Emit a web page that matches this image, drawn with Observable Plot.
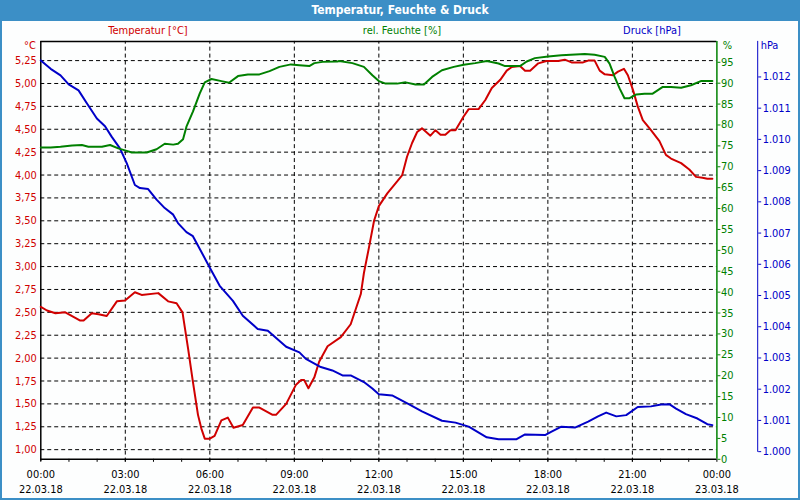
<!DOCTYPE html>
<html>
<head>
<meta charset="utf-8">
<script src="https://cdn.jsdelivr.net/npm/d3@7"></script>
<script src="https://cdn.jsdelivr.net/npm/@observablehq/plot@0.6"></script>
<style>
  html, body { margin: 0; padding: 0; background: #fff; }
  #chart { position: relative; width: 800px; height: 500px; box-sizing: border-box;
           border-left: 2px solid #3c8fc6; border-right: 2px solid #3c8fc6; border-bottom: 2px solid #3c8fc6;
           font-family: "DejaVu Sans Condensed", "DejaVu Sans", sans-serif; font-size: 11px; background: #fdfefe; overflow: hidden; }
  #title { position: absolute; left: -2px; top: 0; width: 800px; height: 21px; background: #3c8fc6; color: #fff;
           font-weight: bold; font-size: 12px; text-align: center; line-height: 20px; }
  .leg { position: absolute; top: 24px; font-size: 11px; transform: translateX(-50%); white-space: nowrap; }
  .layer { position: absolute; left: -2px; top: 22px; }
</style>
</head>
<body>
<div id="chart">
  <div id="title">Temperatur, Feuchte &amp; Druck</div>
  <div class="leg" style="left:146px;color:#d00000">Temperatur [°C]</div>
  <div class="leg" style="left:400px;color:#008000">rel. Feuchte [%]</div>
  <div class="leg" style="left:650px;color:#0000c8">Druck [hPa]</div>
</div>
<script>
// ---- data (hours since 22.03.18 00:00, value) ----
const temperature = [[0,2.56],[0.22,2.52],[0.52,2.49],[0.87,2.50],[1.16,2.45],[1.40,2.41],[1.52,2.41],[1.81,2.49],[2.05,2.48],[2.34,2.46],[2.70,2.62],[2.99,2.63],[3.34,2.72],[3.58,2.69],[4.17,2.71],[4.52,2.62],[4.82,2.60],[5.03,2.50],[5.23,2.10],[5.40,1.74],[5.58,1.38],[5.70,1.23],[5.82,1.12],[6.00,1.12],[6.17,1.15],[6.41,1.32],[6.64,1.35],[6.84,1.24],[7.17,1.27],[7.53,1.46],[7.76,1.46],[8.23,1.38],[8.35,1.38],[8.71,1.50],[9.06,1.71],[9.24,1.76],[9.35,1.76],[9.50,1.67],[9.71,1.79],[9.88,1.96],[10.18,2.13],[10.65,2.23],[11.00,2.37],[11.36,2.70],[11.47,2.93],[11.65,3.21],[11.83,3.50],[12.00,3.66],[12.30,3.80],[12.65,3.93],[12.83,4.00],[13.00,4.20],[13.18,4.35],[13.36,4.47],[13.53,4.51],[13.83,4.43],[14.01,4.49],[14.19,4.44],[14.36,4.44],[14.54,4.49],[14.72,4.49],[15.01,4.64],[15.19,4.72],[15.54,4.72],[15.78,4.82],[16.01,4.95],[16.31,5.04],[16.54,5.14],[16.72,5.18],[17.01,5.19],[17.19,5.14],[17.37,5.14],[17.66,5.22],[17.95,5.245],[18.37,5.245],[18.60,5.26],[18.84,5.23],[19.25,5.23],[19.43,5.25],[19.66,5.25],[19.84,5.14],[20.02,5.10],[20.31,5.09],[20.49,5.13],[20.70,5.16],[20.84,5.09],[21.02,4.93],[21.19,4.75],[21.37,4.60],[21.66,4.49],[21.96,4.37],[22.19,4.22],[22.37,4.18],[22.73,4.13],[23.02,4.06],[23.26,3.98],[23.49,3.97],[23.66,3.96],[23.84,3.96]];

const humidity = [[0,74.6],[0.35,74.6],[0.70,74.8],[1.11,75.1],[1.46,75.2],[1.69,74.8],[2.17,74.8],[2.46,75.2],[2.75,74.4],[3.05,73.8],[3.23,73.4],[3.76,73.4],[4.11,74.2],[4.40,75.5],[4.70,75.3],[4.87,75.5],[5.05,76.6],[5.17,79.6],[5.40,83.2],[5.64,87.5],[5.82,90.2],[6.06,91.0],[6.41,90.5],[6.68,90.1],[7.00,91.7],[7.35,92.1],[7.76,92.1],[8.12,92.9],[8.47,93.9],[8.88,94.5],[9.18,94.3],[9.53,94.1],[9.71,94.8],[10.00,95.1],[10.53,95.2],[10.59,95.3],[11.06,94.8],[11.47,93.9],[11.77,91.9],[12.00,90.5],[12.24,89.9],[12.65,89.9],[12.95,90.2],[13.30,89.7],[13.60,89.7],[13.89,91.5],[14.24,93.1],[14.66,93.9],[15.01,94.4],[15.42,94.8],[15.83,95.3],[16.25,94.7],[16.48,94.1],[17.01,94.1],[17.25,95.2],[17.54,96.0],[18.01,96.4],[18.48,96.7],[19.31,97.0],[19.66,96.8],[20.02,96.3],[20.19,94.7],[20.37,91.5],[20.55,88.7],[20.72,86.4],[20.90,86.4],[21.14,87.3],[21.43,87.5],[21.72,87.5],[22.08,89.1],[22.37,89.1],[22.73,88.9],[23.08,89.5],[23.43,90.5],[23.84,90.5]];

const pressure = [[0,1012.53],[0.35,1012.26],[0.70,1012.05],[0.99,1011.76],[1.34,1011.57],[1.64,1011.15],[1.99,1010.67],[2.28,1010.42],[2.52,1010.08],[2.81,1009.71],[3.05,1009.24],[3.34,1008.54],[3.52,1008.44],[3.81,1008.41],[4.11,1008.07],[4.40,1007.80],[4.70,1007.59],[4.87,1007.32],[5.17,1007.03],[5.40,1006.90],[5.64,1006.50],[6.00,1005.89],[6.35,1005.31],[6.82,1004.83],[7.17,1004.35],[7.70,1003.93],[8.06,1003.87],[8.71,1003.36],[9.18,1003.18],[9.41,1002.97],[9.94,1002.71],[10.35,1002.60],[10.71,1002.44],[11.00,1002.44],[11.47,1002.23],[11.77,1002.02],[12.00,1001.84],[12.47,1001.80],[13.06,1001.52],[13.53,1001.29],[14.24,1000.99],[14.72,1000.93],[15.19,1000.80],[15.83,1000.46],[16.25,1000.40],[16.89,1000.40],[17.19,1000.55],[17.90,1000.53],[18.13,1000.64],[18.48,1000.80],[18.96,1000.77],[19.43,1000.96],[19.78,1001.13],[20.07,1001.25],[20.43,1001.13],[20.78,1001.17],[21.19,1001.43],[21.66,1001.45],[22.02,1001.51],[22.31,1001.52],[22.55,1001.38],[22.90,1001.20],[23.31,1001.06],[23.66,1000.88],[23.84,1000.85]];

// ---- ticks & labels ----
const timeTicks = [0, 3, 6, 9, 12, 15, 18, 21, 24];
const timeLabels = ["00:00","03:00","06:00","09:00","12:00","15:00","18:00","21:00","00:00"];
const dateLabels = ["22.03.18","22.03.18","22.03.18","22.03.18","22.03.18","22.03.18","22.03.18","22.03.18","23.03.18"];
const hourTicks = d3.range(0, 25, 1);
const tempTicks = [1.00,1.25,1.50,1.75,2.00,2.25,2.50,2.75,3.00,3.25,3.50,3.75,4.00,4.25,4.50,4.75,5.00,5.25];
const humTicks = [0,5,10,15,20,25,30,35,40,45,50,55,60,65,70,75,80,85,90,95];
const presTicks = [1000,1001,1002,1003,1004,1005,1006,1007,1008,1009,1010,1011,1012];

const RED = "#d00000", GREEN = "#008000", BLUE = "#0000c8";
const FONT = '"DejaVu Sans Condensed", "DejaVu Sans", sans-serif';
const de = d3.formatLocale({decimal: ",", thousands: ".", grouping: [3], currency: ["", "€"]});
const fmtTemp = de.format(".2f");
const fmtPres = de.format(",");

const W = 800, H = 478, ML = 40.5, XR = 720;
const TMIN = 0.8946, TMAX = 5.4598;
const common = {width: W, height: H, marginTop: 19, marginBottom: 39, marginLeft: ML, marginRight: W - XR,
  style: {background: "transparent", fontFamily: FONT, fontSize: "11px", overflow: "visible"}};
const chart = document.getElementById("chart");
function add(svg) { svg.classList.add("layer"); chart.appendChild(svg); }

// Temperature layer (grid, frame, x axis)
add(Plot.plot({
  ...common,
  x: {domain: [0, 24], axis: null},
  y: {domain: [TMIN, TMAX], axis: null},
  marks: [
    Plot.ruleY(tempTicks, {y: d => d, stroke: "#000", strokeDasharray: "4,3", strokeWidth: 1}),
    Plot.ruleX(timeTicks.slice(1, -1), {x: d => d, stroke: "#000", strokeDasharray: "4,3", strokeWidth: 1, y1: TMIN - 0.03, y2: TMAX}),
    Plot.ruleX(hourTicks, {x: d => d, stroke: "#000", y1: TMIN, y2: TMIN - 0.033}),
    Plot.ruleY([TMAX], {stroke: "#000", strokeWidth: 1.5}),
    Plot.ruleY([TMIN], {stroke: "#000", strokeWidth: 1.5}),
    Plot.ruleX([0], {stroke: "#000", strokeWidth: 1.5, y1: TMIN - 0.02, y2: TMAX}),
    Plot.axisY(tempTicks, {anchor: "left", tickSize: 0, tickPadding: 4, tickFormat: fmtTemp, fill: RED, fontSize: 11}),
    Plot.text(["°C"], {frameAnchor: "top-left", dx: -5, dy: 0, textAnchor: "end", fill: RED, fontSize: 11}),
    Plot.text(timeTicks, {x: d => d, y: TMIN, text: (d, i) => timeLabels[i] + "\n" + dateLabels[i],
      lineAnchor: "top", dy: 7, lineHeight: 1.45, fill: "#000", fontSize: 11}),
    Plot.line(temperature, {x: d => d[0], y: d => d[1], stroke: RED, strokeWidth: 2})
  ]
}));

// Pressure layer (axis at x=761)
const PX = 761;
const presX = 24 * (PX - ML) / (XR - ML);
add(Plot.plot({
  ...common,
  marginRight: W - PX,
  x: {domain: [0, presX], axis: null},
  y: {domain: [999.755, 1013.138], axis: null},
  marks: [
    Plot.ruleX([presX], {stroke: BLUE, strokeWidth: 1, y1: 999.98, y2: 1013.138}),
    Plot.axisY(presTicks, {anchor: "right", tickSize: 3, tickPadding: 2, tickFormat: fmtPres, fill: BLUE, stroke: BLUE, fontSize: 11}),
    Plot.text(["hPa"], {frameAnchor: "top-right", dx: 3, dy: 0, textAnchor: "start", fill: BLUE, fontSize: 11}),
    Plot.line(pressure, {x: d => d[0], y: d => d[1], stroke: BLUE, strokeWidth: 2})
  ]
}));

// Humidity layer (axis at x=720)
add(Plot.plot({
  ...common,
  x: {domain: [0, 24], axis: null},
  y: {domain: [0, 100], axis: null},
  marks: [
    Plot.ruleX([24], {stroke: GREEN, strokeWidth: 1.5, y1: 0, y2: 100}),
    Plot.axisY(humTicks, {anchor: "right", tickSize: 3, tickPadding: 1, fill: GREEN, stroke: GREEN, fontSize: 11}),
    Plot.text(["%"], {frameAnchor: "top-right", dx: 6, dy: 0, textAnchor: "start", fill: GREEN, fontSize: 11}),
    Plot.line(humidity, {x: d => d[0], y: d => d[1], stroke: GREEN, strokeWidth: 2})
  ]
}));
</script>
</body>
</html>
